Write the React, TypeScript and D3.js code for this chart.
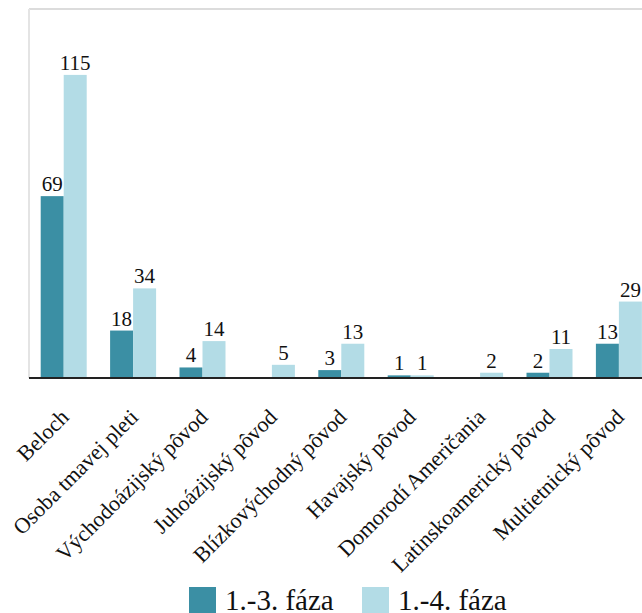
import React, { useEffect, useRef } from "react";
import * as d3 from "d3";

const categories = [
  "Beloch",
  "Osoba tmavej pleti",
  "Východoázijský pôvod",
  "Juhoázijský pôvod",
  "Blízkovýchodný pôvod",
  "Havajský pôvod",
  "Domorodí Američania",
  "Latinskoamerický pôvod",
  "Multietnický pôvod",
];
const seriesNames = ["1.-3. fáza", "1.-4. fáza"];
const phase13 = [69, 18, 4, 0, 3, 1, 0, 2, 13];
const phase14 = [115, 34, 14, 5, 13, 1, 2, 11, 29];
const colors = ["#3b8fa4", "#b3dce6"];

const chartW = 642;
const chartH = 613;
const plotLeft = 29;
const plotTop = 9;
const baseY = 378;
const step = 69.4;
const groupW = 46;
const serif = "'Liberation Serif', 'Times New Roman', Tinos, serif";

export default function App() {
  const svgRef = useRef<SVGSVGElement>(null);

  useEffect(() => {
    if (!svgRef.current) return;
    d3.select(svgRef.current)
      .selectAll<SVGTextElement, unknown>("text")
      .each(function () {
        this.style.setProperty("font-family", serif, "important");
      });
  });

  const x0 = d3
    .scaleBand<string>()
    .domain(categories)
    .range([plotLeft, plotLeft + step * categories.length])
    .padding(0);
  const x1 = d3.scaleBand<string>().domain(seriesNames).range([0, groupW]).padding(0);
  const y = d3.scaleLinear().domain([0, 140]).range([baseY, plotTop]);
  const values = [phase13, phase14];

  return (
    <svg
      ref={svgRef}
      id="chart"
      width={chartW}
      height={chartH}
      style={{ position: "absolute", left: 0, top: 0, background: "#fff" }}
    >
      <style>{`#root svg#chart text.lbl { font-family: ${serif} !important; }`}</style>
      {/* plot frame */}
      <line x1={plotLeft} x2={chartW} y1={plotTop} y2={plotTop} stroke="#dcdcdc" strokeWidth={2} />
      <line x1={plotLeft} x2={plotLeft} y1={plotTop} y2={baseY} stroke="#e4e4e4" strokeWidth={2} />

      {categories.map((c, i) => {
        const gx = (x0(c) as number) + (x0.bandwidth() - groupW) / 2;
        return (
          <g key={c}>
            {seriesNames.map((s, k) => {
              const v = values[k][i];
              const bx = gx + (x1(s) as number);
              const bw = x1.bandwidth();
              return (
                <g key={s}>
                  {v > 0 && (
                    <rect x={bx} y={y(v)} width={bw} height={baseY - y(v)} fill={colors[k]} />
                  )}
                  {v > 0 && (
                    <text
                      className="lbl"
                      x={bx + bw / 2}
                      y={y(v) - 5}
                      textAnchor="middle"
                      fontSize={21}
                      fill="#111"
                    >
                      {v}
                    </text>
                  )}
                </g>
              );
            })}
          </g>
        );
      })}

      {/* category axis */}
      <line x1={plotLeft} x2={chartW} y1={baseY} y2={baseY} stroke="#222" strokeWidth={2} />
      {categories.map((c) => {
        const cx = (x0(c) as number) + x0.bandwidth() / 2;
        return (
          <text
            key={c}
            className="lbl"
            transform={`translate(${cx + 1},${baseY + 35}) rotate(-45)`}
            textAnchor="end"
            dy="0.35em"
            fontSize={22}
            fill="#111"
          >
            {c}
          </text>
        );
      })}

      {/* legend */}
      {seriesNames.map((s, k) => {
        const lx = k === 0 ? 189 : 362;
        return (
          <g key={s}>
            <rect x={lx} y={587} width={27} height={27} fill={colors[k]} />
            <text className="lbl" x={lx + 36} y={610} fontSize={29} fill="#111">
              {s}
            </text>
          </g>
        );
      })}
    </svg>
  );
}
